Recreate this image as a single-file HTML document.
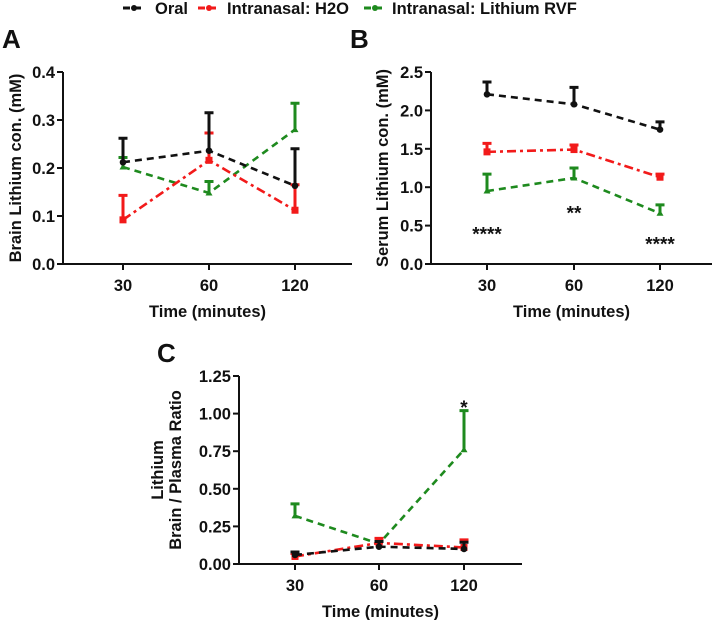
<!DOCTYPE html>
<html><head><meta charset="utf-8"><style>
html,body{margin:0;padding:0;background:#fff;width:720px;height:620px;overflow:hidden}
svg text{font-family:"Liberation Sans",Arial,sans-serif;font-weight:bold;fill:#111}
</style></head><body>
<svg id="c" width="720" height="620" xmlns="http://www.w3.org/2000/svg"></svg>
<script>
const categories = ["30","60","120"];
const aTicks = ["0.0","0.1","0.2","0.3","0.4"];
const aOral = [0.212,0.236,0.163], aOralErr = [0.050,0.079,0.077];
const aH2O = [0.092,0.216,0.112], aH2OErr = [0.051,0.057,0.053];
const aRVF = [0.202,0.148,0.280], aRVFErr = [0.020,0.024,0.055];
const bTicks = ["0.0","0.5","1.0","1.5","2.0","2.5"];
const bOral = [2.21,2.08,1.75], bOralErr = [0.16,0.22,0.10];
const bH2O = [1.46,1.49,1.13], bH2OErr = [0.11,0.06,0.04];
const bRVF = [0.95,1.12,0.66], bRVFErr = [0.22,0.13,0.11];
const bStars = ["****","**","****"], bStarY = [0.45,0.72,0.32];
const cTicks = ["0.00","0.25","0.50","0.75","1.00","1.25"];
const cOral = [0.06,0.115,0.10], cOralErr = [0.02,0.035,0.045];
const cH2O = [0.05,0.14,0.11], cH2OErr = [0.02,0.03,0.05];
const cRVF = [0.32,0.135,0.76], cRVFErr = [0.08,0.015,0.26];
const cStars = ["","","*"], cStarY = [0,0,1.07];

const NS="http://www.w3.org/2000/svg", svg=document.getElementById('c');
function mk(t,a,p){const e=document.createElementNS(NS,t);for(const k in a)e.setAttribute(k,a[k]);(p||svg).appendChild(e);return e;}
const BLK="#111",RED="#f21a1a",GRN="#1e8a1e";

function panel(o){
  const g=mk('g',{});
  
  
  const ymax=o.ymax;
  const Y=v=>o.y0-(v/ymax)*(o.y0-o.y1);
  const X=i=>o.xs[i];
  const series=[[o.rvf,o.rvfErr,GRN,"7,5","tri","rvf"],[o.h2o,o.h2oErr,RED,"9,4,3,4","sq","h2o"],[o.oral,o.oralErr,BLK,"7,5","dot","oral"]];
  series.forEach(s=>{
    const [vals,err,col,dash,mkr,nm]=s;
    const pl=mk('polyline',{points:vals.map((v,i)=>X(i)+','+Y(v)).join(' '),fill:'none',stroke:col,'stroke-width':2.6,'stroke-dasharray':dash},g);
    
    
    vals.forEach((v,i)=>{
      const eb=mk('path',{d:`M${X(i)},${Y(v)}V${Y(v+err[i])}M${X(i)-4.5},${Y(v+err[i])}H${X(i)+4.5}`,stroke:col,'stroke-width':3,fill:'none'},g);
      
      
      let m;
      if(mkr=="dot")m=mk('circle',{cx:X(i),cy:Y(v),r:3.3,fill:col},g);
      else if(mkr=="sq")m=mk('rect',{x:X(i)-3.5,y:Y(v)-3.5,width:7,height:7,fill:col},g);
      else m=mk('path',{d:`M${X(i)-3.5},${Y(v)+2.5}L${X(i)+3.5},${Y(v)+2.5}L${X(i)},${Y(v)-3.5}Z`,fill:col},g);
      
      
    });
  });
  const ax=mk('path',{d:`M${o.ax},${o.y1}V${o.y0}H${o.xend}`,stroke:BLK,'stroke-width':2,fill:'none'},g);
  
  
  o.ticks.forEach((t,i)=>{
    const v=ymax*i/(o.ticks.length-1);
    mk('line',{x1:o.ax-6,x2:o.ax,y1:Y(v),y2:Y(v),stroke:BLK,'stroke-width':2},g);
    const tx=mk('text',{x:o.ax-8,y:Y(v)+6,'text-anchor':'end','font-size':16.5},g);tx.textContent=t;
    
    
  });
  categories.forEach((c,i)=>{
    mk('line',{x1:X(i),x2:X(i),y1:o.y0,y2:o.y0+6,stroke:BLK,'stroke-width':2},g);
    const tx=mk('text',{x:X(i),y:o.y0+27,'text-anchor':'middle','font-size':16.5},g);tx.textContent=c;
    
    
  });
  const xt=mk('text',{x:(o.ax+o.xend)/2,y:o.y0+53,'text-anchor':'middle','font-size':16.5},g);xt.textContent="Time (minutes)";
  
  
  o.ytitle.forEach((l,k)=>{
    const x=o.ytx+k*18, y=(o.y0+o.y1)/2;
    const yt=mk('text',{x:x,y:y,'text-anchor':'middle','font-size':16.5,transform:`rotate(-90 ${x} ${y})`},g);yt.textContent=l;
    
    
  });
  const lt=mk('text',{x:o.lx,y:o.ly,'font-size':26},g);lt.textContent=o.letter;
  
  
  if(o.stars)o.stars.forEach((s,i)=>{ if(!s)return;
    const st=mk('text',{x:X(i),y:Y(o.starY[i])+11,'text-anchor':'middle','font-size':19},g);st.textContent=s;
    
    
  });
}
panel({name:'panel-a',letter:'A',lx:2,ly:48,ax:63,xend:352,y0:264,y1:72,ymax:0.4,xs:[123,209,295],ticks:aTicks,
  oral:aOral,oralErr:aOralErr,h2o:aH2O,h2oErr:aH2OErr,rvf:aRVF,rvfErr:aRVFErr,ytitle:["Brain Lithium con. (mM)"],ytx:21});
panel({name:'panel-b',letter:'B',lx:350,ly:48,ax:431,xend:712,y0:264,y1:72,ymax:2.5,xs:[487,574,660],ticks:bTicks,
  oral:bOral,oralErr:bOralErr,h2o:bH2O,h2oErr:bH2OErr,rvf:bRVF,rvfErr:bRVFErr,ytitle:["Serum Lithium con. (mM)"],ytx:388,stars:bStars,starY:bStarY});
panel({name:'panel-c',letter:'C',lx:157,ly:362,ax:239,xend:522,y0:564,y1:376,ymax:1.25,xs:[295,379,464],ticks:cTicks,
  oral:cOral,oralErr:cOralErr,h2o:cH2O,h2oErr:cH2OErr,rvf:cRVF,rvfErr:cRVFErr,ytitle:["Lithium","Brain / Plasma Ratio"],ytx:163,stars:cStars,starY:cStarY});
const legend=[["Oral",BLK,"7,4",123,155],["Intranasal: H2O",RED,"7,4",198,227],["Intranasal: Lithium RVF",GRN,"7,4",364,392]];
legend.forEach(l=>{
  const g=mk('g',{});
  
  
  mk('line',{x1:l[3],x2:l[3]+22,y1:8,y2:8,stroke:l[1],'stroke-width':3,'stroke-dasharray':l[2]},g);
  mk('circle',{cx:l[3]+11,cy:8,r:3,fill:l[1]},g);
  const t=mk('text',{x:l[4],y:14,'font-size':16.5},g);t.textContent=l[0];
});
</script>
</body></html>
